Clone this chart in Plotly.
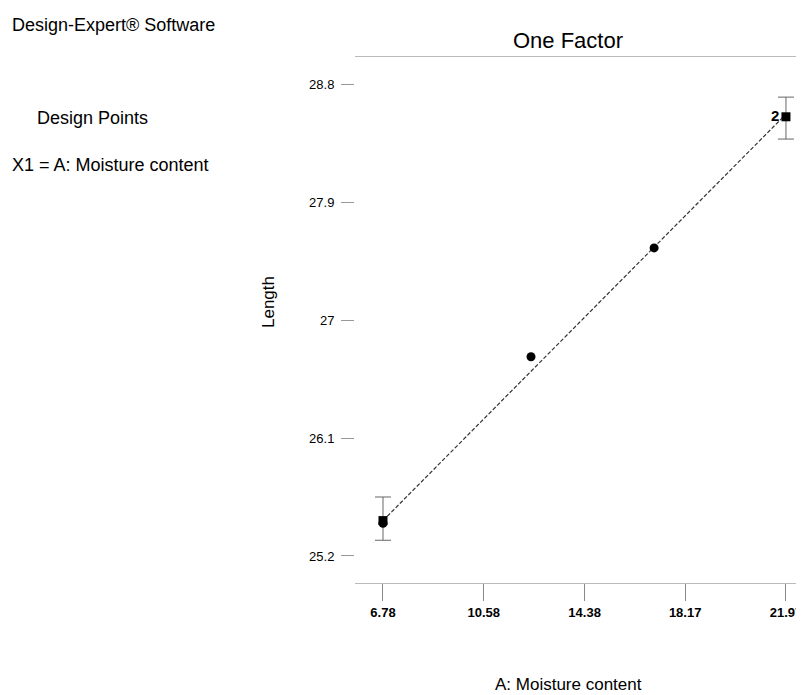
import plotly.graph_objects as go

# Design points
x_pts = [6.78, 12.36, 17.0, 21.97]
y_pts = [25.47, 26.72, 27.55, 28.55]
pt_symbols = ["square", "circle", "circle", "square"]
pt_labels = ["", "", "", "2"]

# second (overlapping) replicate at low end
x_rep = [6.78]
y_rep = [25.45]

# LSD / error bars at the factor extremes
err_x = [6.78, 21.97]
err_center = [25.48, 28.55]
err_plus = [0.17, 0.15]
err_minus = [0.16, 0.17]

# fitted model line
line_x = [6.78, 21.97]
line_y = [25.47, 28.57]

# ticks
x_ticks = [6.78, 10.58, 14.38, 18.17, 21.97]
x_ticklabels = ["6.78", "10.58", "14.38", "18.17", "21.97"]
y_ticks = [25.2, 26.1, 27.0, 27.9, 28.8]
y_ticklabels = ["25.2", "26.1", "27", "27.9", "28.8"]

FONT = "Liberation Sans, Arial, sans-serif"

# page body has an 8px margin, so the figure is 8px smaller than the window
OFF = 8
W, H = 804 - OFF, 695 - OFF
PL, PR, PT, PB = 355, 804, 57, 583   # plot area in window pixels

fig = go.Figure()

fig.add_trace(go.Scatter(
    x=line_x, y=line_y, mode="lines",
    line=dict(color="#333333", width=1.2, dash="4px,2px"),
    hoverinfo="skip", showlegend=False))

fig.add_trace(go.Scatter(
    x=err_x, y=err_center, mode="markers",
    marker=dict(size=1, color="rgba(0,0,0,0)"),
    error_y=dict(type="data", symmetric=False, array=err_plus, arrayminus=err_minus,
                 color="#666666", thickness=1, width=8),
    hoverinfo="skip", showlegend=False))

fig.add_trace(go.Scatter(
    x=x_rep, y=y_rep, mode="markers",
    marker=dict(symbol="circle", size=9, color="black"),
    showlegend=False))

fig.add_trace(go.Scatter(
    x=x_pts, y=y_pts, mode="markers+text",
    marker=dict(symbol=pt_symbols, size=9, color="black"),
    text=pt_labels, textposition="middle left",
    textfont=dict(family=FONT, size=15, color="black", weight="bold"),
    showlegend=False))

fig.update_layout(
    width=W, height=H,
    margin=dict(l=PL - OFF, r=W - (PR - OFF), t=PT - OFF, b=H - (PB - OFF)),
    paper_bgcolor="white", plot_bgcolor="white",
    font=dict(family=FONT, color="black"),
    title=dict(text="One Factor", x=(568 - OFF) / W, xanchor="center",
               y=1 - (40 - OFF) / H, yanchor="middle",
               font=dict(family=FONT, size=22, color="black")),
    showlegend=False,
)

fig.update_xaxes(
    range=[5.725, 22.65],
    tickmode="array", tickvals=x_ticks, ticktext=x_ticklabels,
    tickfont=dict(family=FONT, size=13, color="black", weight="bold"),
    ticks="outside", ticklen=17, tickcolor="#888888", tickwidth=1,
    showline=True, linecolor="#bbbbbb", linewidth=1, mirror=True,
    showgrid=False, zeroline=False, automargin=False,
)
fig.update_yaxes(
    range=[24.994, 29.006],
    tickmode="array", tickvals=y_ticks, ticktext=y_ticklabels,
    tickfont=dict(family=FONT, size=13, color="black"),
    ticks="outside", ticklen=13, tickcolor="#999999", tickwidth=1,
    ticklabelstandoff=4,
    showline=False, showgrid=False, zeroline=False, automargin=False,
)


def px(xw):
    return (xw - PL) / (PR - PL)


def py(yw):
    return 1 - (yw - PT) / (PB - PT)


annotations = [
    dict(text="Design-Expert® Software", x=10, y=25, font_size=18),
    dict(text="Design Points", x=35, y=118, font_size=18),
    dict(text="X1 = A: Moisture content", x=10, y=165, font_size=18),
]
for a in annotations:
    fig.add_annotation(
        text=a["text"], xref="paper", yref="paper",
        x=px(a["x"]), y=py(a["y"]),
        xanchor="left", yanchor="middle", showarrow=False,
        font=dict(family=FONT, size=a["font_size"], color="black"))

fig.add_annotation(text="Length", xref="paper", yref="paper",
                   x=px(268), y=py(302),
                   textangle=-90, showarrow=False, xanchor="center", yanchor="middle",
                   font=dict(family=FONT, size=17, color="black"))
fig.add_annotation(text="A: Moisture content", xref="paper", yref="paper",
                   x=px(568), y=py(684),
                   showarrow=False, xanchor="center", yanchor="middle",
                   font=dict(family=FONT, size=17, color="black"))

fig.write_html("out.html")
